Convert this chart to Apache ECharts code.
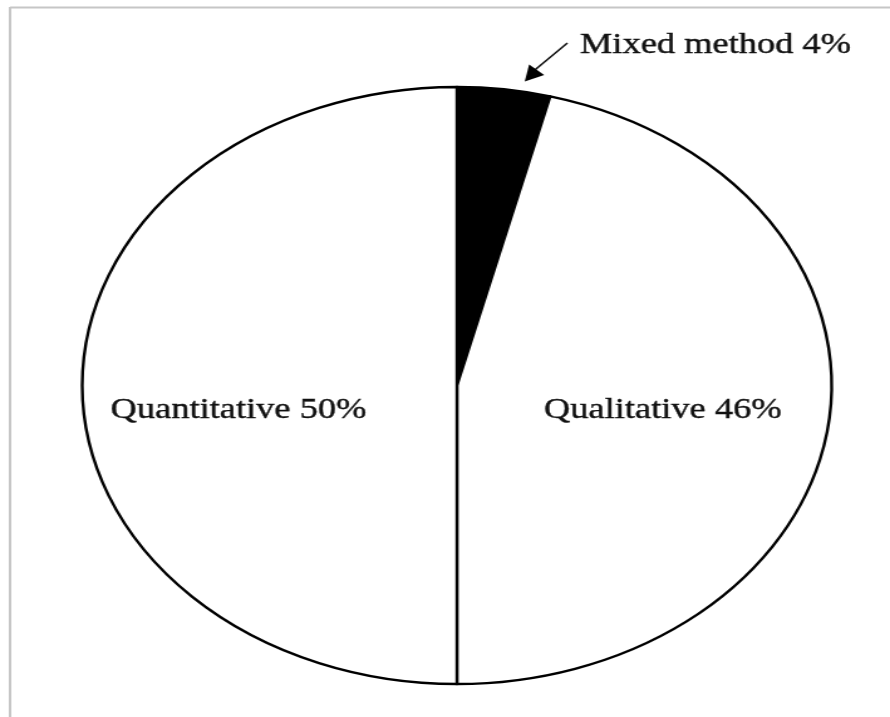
<!DOCTYPE html>
<html>
<head>
<meta charset="utf-8">
<script src="https://cdn.jsdelivr.net/npm/echarts@6/dist/echarts.min.js"></script>
<style>
  html, body { margin: 0; padding: 0; background: #ffffff; overflow: hidden; }
  #wrap { width: 890px; height: 717px; position: relative; overflow: hidden; }
  /* the figure is laid out as a circle, then widened into an ellipse */
  #chart { position: absolute; left: 0; top: 0; width: 709px; height: 717px;
           transform: scaleX(1.2553); transform-origin: 0 0; }
</style>
</head>
<body>
<div id="wrap"><div id="chart"></div></div>
<script>
// Research approaches (percent), clockwise from 12 o'clock
const categories = ['Mixed method', 'Qualitative', 'Quantitative'];
const shares = [4, 46, 50];
const sliceColors = ['#000000', '#ffffff', '#ffffff'];

const FONT = "Liberation Serif, Times New Roman, serif";
// label anchor points in the chart's own (unstretched) pixel space
const labelSpots = [
  { x: 570, y: 45 },
  { x: 528, y: 410 },
  { x: 190, y: 410 }
];

const chart = echarts.init(document.getElementById('chart'), null, { renderer: 'canvas' });

chart.setOption({
  backgroundColor: '#ffffff',
  animation: false,
  series: [{
    type: 'pie',
    center: [364, 385.5],
    radius: [0, 298.5],
    startAngle: 90,
    clockwise: true,
    avoidLabelOverlap: false,
    silent: true,
    itemStyle: { borderColor: '#000000', borderWidth: 2.4 },
    label: {
      show: true,
      position: 'inside',
      formatter: p => p.name + ' ' + p.value + '%',
      fontFamily: FONT,
      fontSize: 29,
      color: '#111111',
      textBorderColor: '#111111',
      textBorderWidth: 0.4
    },
    labelLine: { show: false },
    labelLayout: p => ({
      x: labelSpots[p.dataIndex].x,
      y: labelSpots[p.dataIndex].y,
      align: 'center',
      verticalAlign: 'middle'
    }),
    emphasis: { disabled: true },
    data: categories.map((c, i) => ({
      name: c,
      value: shares[i],
      itemStyle: { color: sliceColors[i] }
    }))
  }],
  graphic: [
    // outer frame (top and left rules)
    { type: 'line', shape: { x1: 8, y1: 7.5, x2: 709, y2: 7.5 },
      style: { stroke: '#c6c6c6', lineWidth: 2 } },
    { type: 'line', shape: { x1: 8, y1: 7, x2: 8, y2: 717 },
      style: { stroke: '#c6c6c6', lineWidth: 2 } },
    // pointer from the small-slice label to its slice
    { type: 'line', shape: { x1: 452, y1: 43, x2: 426, y2: 70 },
      style: { stroke: '#111111', lineWidth: 1.6 } },
    { type: 'polygon', shape: { points: [[418, 81.5], [421.5, 64.5], [433.5, 75]] },
      style: { fill: '#000000' } }
  ]
});
</script>
</body>
</html>
